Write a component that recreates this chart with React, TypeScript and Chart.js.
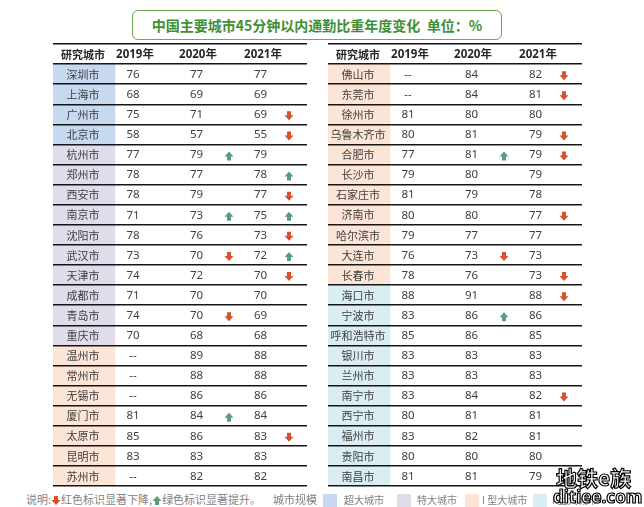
import React, { useEffect, useRef } from 'react';
import { Chart, registerables } from 'chart.js';

Chart.register(...registerables);

const HEADER = ['研究城市', '2019年', '2020年', '2021年'];

const leftCities = ['深圳市', '上海市', '广州市', '北京市', '杭州市', '郑州市', '西安市', '南京市', '沈阳市', '武汉市', '天津市', '成都市', '青岛市', '重庆市', '温州市', '常州市', '无锡市', '厦门市', '太原市', '昆明市', '苏州市'];
const left2019 = [76, 68, 75, 58, 77, 78, 78, 71, 78, 73, 74, 71, 74, 70, null, null, null, 81, 85, 83, null];
const left2020 = [77, 69, 71, 57, 79, 77, 79, 73, 76, 70, 72, 70, 70, 68, 89, 88, 86, 84, 86, 83, 82];
const left2021 = [77, 69, 69, 55, 79, 78, 77, 75, 73, 72, 70, 70, 69, 68, 88, 88, 86, 84, 83, 83, 82];
const leftChg2020 = [0, 0, 0, 0, 1, 0, 0, 1, 0, -1, 0, 0, -1, 0, 0, 0, 0, 1, 0, 0, 0];
const leftChg2021 = [0, 0, -1, -1, 0, 1, -1, 1, -1, 1, -1, 0, 0, 0, 0, 0, 0, 0, -1, 0, 0];
const leftTier = [0, 0, 0, 0, 1, 1, 1, 1, 1, 1, 1, 1, 1, 1, 2, 2, 2, 2, 2, 2, 2];

const rightCities = ['佛山市', '东莞市', '徐州市', '乌鲁木齐市', '合肥市', '长沙市', '石家庄市', '济南市', '哈尔滨市', '大连市', '长春市', '海口市', '宁波市', '呼和浩特市', '银川市', '兰州市', '南宁市', '西宁市', '福州市', '贵阳市', '南昌市'];
const right2019 = [null, null, 81, 80, 77, 79, 81, 80, 79, 76, 78, 88, 83, 85, 83, 83, 83, 80, 83, 80, 81];
const right2020 = [84, 84, 80, 81, 81, 80, 79, 80, 77, 73, 76, 91, 86, 86, 83, 83, 84, 81, 82, 80, 81];
const right2021 = [82, 81, 80, 79, 79, 79, 78, 77, 77, 73, 73, 88, 86, 85, 83, 83, 82, 81, 81, 80, 79];
const rightChg2020 = [0, 0, 0, 0, 1, 0, 0, 0, 0, -1, 0, 0, 1, 0, 0, 0, 0, 0, 0, 0, 0];
const rightChg2021 = [-1, -1, 0, -1, -1, 0, 0, -1, 0, 0, -1, -1, 0, 0, 0, 0, -1, 0, 0, 0, 0];
const rightTier = [2, 2, 2, 2, 2, 2, 2, 2, 2, 2, 2, 3, 3, 3, 3, 3, 3, 3, 3, 3, 3];

const tierNames = ['超大城市', '特大城市', 'I 型大城市', 'II型大城市'];
const tierColors = ['#c6d9f0', '#e0dcec', '#fce4d6', '#daedf3'];

const TITLE = '中国主要城市45分钟以内通勤比重年度变化  单位：%';
const NOTE_PREFIX = '说明:';
const NOTE_DOWN = '红色标识显著下降,';
const NOTE_UP = '绿色标识显著提升。';
const TIER_LABEL = '城市规模';

const RED = '#d4532b';
const GREEN = '#5b9c80';

// layout (table-local x units = pixels)
const TW = 254;
const COL = { cityEnd: 62, city: 30, h19: 82, v19: 80, h20: 145, v20: 143.5, a20: 176, h21: 210, v21: 207.5, a21: 236 };

const CJK = '"Noto Sans CJK SC", "Noto Sans", sans-serif';
const NUM = '"Noto Sans", "Noto Sans CJK SC", sans-serif';

function drawArrow(ctx: CanvasRenderingContext2D, x: number, y: number, dir: number) {
  ctx.save();
  ctx.fillStyle = dir < 0 ? RED : GREEN;
  ctx.beginPath();
  if (dir < 0) {
    ctx.moveTo(x - 2, y - 4.5);
    ctx.lineTo(x + 2, y - 4.5);
    ctx.lineTo(x + 2, y - 0.5);
    ctx.lineTo(x + 4.5, y - 0.5);
    ctx.lineTo(x, y + 4.5);
    ctx.lineTo(x - 4.5, y - 0.5);
    ctx.lineTo(x - 2, y - 0.5);
  } else {
    ctx.moveTo(x - 2, y + 4.5);
    ctx.lineTo(x + 2, y + 4.5);
    ctx.lineTo(x + 2, y + 0.5);
    ctx.lineTo(x + 4.5, y + 0.5);
    ctx.lineTo(x, y - 4.5);
    ctx.lineTo(x - 4.5, y + 0.5);
    ctx.lineTo(x - 2, y + 0.5);
  }
  ctx.closePath();
  ctx.fill();
  ctx.restore();
}

type TableProps = {
  cities: string[];
  v19: (number | null)[];
  v20: (number | null)[];
  v21: (number | null)[];
  c20: number[];
  c21: number[];
  tier: number[];
  left: number;
};

function Table(p: TableProps) {
  const ref = useRef<HTMLCanvasElement>(null);
  useEffect(() => {
    const labels = [HEADER[0], ...p.cities];
    const textPlugin = {
      id: 'tableText',
      afterDraw(chart: any) {
        const ctx: CanvasRenderingContext2D = chart.ctx;
        const xs = chart.scales.x;
        const ys = chart.scales.y;
        ctx.save();
        ctx.textAlign = 'center';
        ctx.textBaseline = 'middle';
        // header
        const hy = ys.getPixelForValue(0) + 0.5;
        ctx.fillStyle = '#262626';
        ctx.font = `bold 11px ${CJK}`;
        ctx.fillText(HEADER[0], xs.getPixelForValue(COL.city), hy);
        ctx.font = `bold 11.5px ${NUM}`;
        ctx.fillText(HEADER[1], xs.getPixelForValue(COL.h19), hy);
        ctx.fillText(HEADER[2], xs.getPixelForValue(COL.h20), hy);
        ctx.fillText(HEADER[3], xs.getPixelForValue(COL.h21), hy);
        const fmt = (v: number | null) => (v == null ? '--' : String(v));
        p.cities.forEach((c, i) => {
          const y = ys.getPixelForValue(i + 1) + 0.5;
          ctx.fillStyle = '#404040';
          ctx.font = `11px ${CJK}`;
          ctx.fillText(c, xs.getPixelForValue(COL.city), y);
          ctx.font = `11.5px ${NUM}`;
          ctx.fillText(fmt(p.v19[i]), xs.getPixelForValue(COL.v19), y);
          ctx.fillText(fmt(p.v20[i]), xs.getPixelForValue(COL.v20), y);
          ctx.fillText(fmt(p.v21[i]), xs.getPixelForValue(COL.v21), y);
          if (p.c20[i]) drawArrow(ctx, xs.getPixelForValue(COL.a20), y + 1, p.c20[i]);
          if (p.c21[i]) drawArrow(ctx, xs.getPixelForValue(COL.a21), y + 1, p.c21[i]);
        });
        ctx.restore();
      },
    };
    const chart = new Chart(ref.current as HTMLCanvasElement, {
      type: 'bar',
      data: {
        labels,
        datasets: [
          {
            data: labels.map((_, i) => (i === 0 ? null : [0, COL.cityEnd])) as any,
            backgroundColor: labels.map((_, i) => (i === 0 ? 'rgba(0,0,0,0)' : tierColors[p.tier[i - 1]])),
            barPercentage: 1,
            categoryPercentage: 1,
            borderWidth: 0,
          },
        ],
      },
      options: {
        indexAxis: 'y',
        responsive: false,
        animation: false,
        events: [],
        layout: { padding: { top: 2, bottom: 2, left: 0, right: 0 } },
        plugins: { legend: { display: false }, tooltip: { enabled: false } },
        scales: {
          x: { type: 'linear', min: 0, max: TW, display: false },
          y: {
            type: 'category',
            offset: true,
            grid: { offset: true, color: '#151515', lineWidth: 1.5, drawTicks: false, z: 1 },
            border: { display: false },
            ticks: { display: false },
          },
        },
      } as any,
      plugins: [textPlugin],
    });
    return () => chart.destroy();
  }, []);
  return (
    <canvas
      ref={ref}
      width={TW}
      height={446}
      style={{ position: 'absolute', left: p.left, top: 42, width: TW, height: 446 }}
    />
  );
}

function ArrowIcon({ dir }: { dir: number }) {
  const pts = dir < 0 ? '3,0 7,0 7,4 9.5,4 5,9 0.5,4 3,4' : '3,9 7,9 7,5 9.5,5 5,0 0.5,5 3,5';
  return (
    <svg width="10" height="9" viewBox="0 0 10 9" style={{ display: 'inline-block', verticalAlign: '-1px' }}>
      <polygon points={pts} fill={dir < 0 ? RED : GREEN} />
    </svg>
  );
}

export default function App() {
  const boxLefts = [323, 397, 465, 533];
  const labelLefts = [344, 417, 482, 552];
  return (
    <div style={{ position: 'absolute', left: 0, top: 0, width: 644, height: 507, background: '#fff', overflow: 'hidden', fontFamily: CJK }}>
      <div
        style={{
          position: 'absolute',
          left: 132,
          top: 10,
          width: 370,
          height: 30,
          boxSizing: 'border-box',
          border: '1.5px solid #6aaa4c',
          borderRadius: 6,
          display: 'flex',
          alignItems: 'center',
          justifyContent: 'center',
          color: '#3f8f33',
          fontWeight: 'bold',
          fontSize: 14,
          whiteSpace: 'pre',
        }}
      >
        {TITLE}
      </div>
      <Table cities={leftCities} v19={left2019} v20={left2020} v21={left2021} c20={leftChg2020} c21={leftChg2021} tier={leftTier} left={53} />
      <Table cities={rightCities} v19={right2019} v20={right2020} v21={right2021} c20={rightChg2020} c21={rightChg2021} tier={rightTier} left={328} />
      <div style={{ position: 'absolute', left: 26, top: 491, height: 16, lineHeight: '16px', fontSize: 11, color: '#7f7f7f', whiteSpace: 'pre' }}>
        {NOTE_PREFIX}
        <ArrowIcon dir={-1} />
        {NOTE_DOWN}
        <ArrowIcon dir={1} />
        {NOTE_UP}
      </div>
      <div style={{ position: 'absolute', left: 273, top: 491, height: 16, lineHeight: '16px', fontSize: 11, color: '#7f7f7f' }}>{TIER_LABEL}</div>
      {tierNames.map((n, i) => (
        <React.Fragment key={n}>
          <div style={{ position: 'absolute', left: boxLefts[i], top: 494, width: 14, height: 13, background: tierColors[i] }} />
          <div style={{ position: 'absolute', left: labelLefts[i], top: 492, height: 15, lineHeight: '15px', fontSize: 10, color: '#7f7f7f', whiteSpace: 'pre' }}>{n}</div>
        </React.Fragment>
      ))}
      <div style={{ position: 'absolute', left: 556, top: 465, fontSize: 21, fontWeight: 'bold', lineHeight: '24px', color: '#fff', WebkitTextStroke: '1.2px #000', whiteSpace: 'pre' }}>地铁e族</div>
      <div style={{ position: 'absolute', left: 553, top: 487, fontSize: 17, fontWeight: 'bold', lineHeight: '20px', color: '#fff', WebkitTextStroke: '1.2px #000', fontFamily: NUM, whiteSpace: 'pre' }}>ditiee.com</div>
    </div>
  );
}
